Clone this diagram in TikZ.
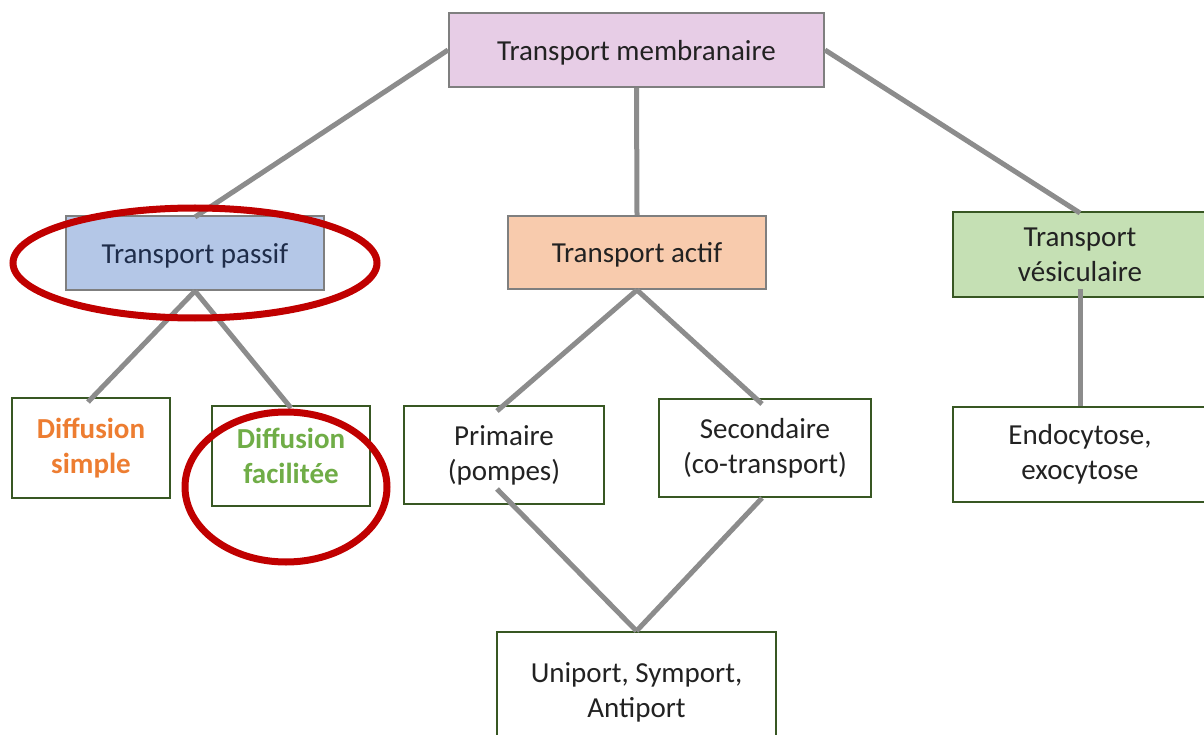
\documentclass[tikz,border=0pt]{standalone}
\usepackage{fontspec}
\setmainfont{Carlito}
\definecolor{memfill}{HTML}{E7CDE6}
\definecolor{pasfill}{HTML}{B4C7E7}
\definecolor{actfill}{HTML}{F8CBAD}
\definecolor{vesfill}{HTML}{C5E0B4}
\definecolor{grayedge}{HTML}{7F7F7F}
\definecolor{greenedge}{HTML}{385723}
\definecolor{linkgray}{HTML}{8C8C8C}
\definecolor{ringred}{HTML}{C00000}
\definecolor{txtdark}{HTML}{222222}
\definecolor{txtnavy}{HTML}{1F2D4A}
\definecolor{txtorange}{HTML}{ED7D31}
\definecolor{txtgreen}{HTML}{70AD47}
\begin{document}
\begin{tikzpicture}[x=1pt,y=-1pt,
  basebox/.style={rectangle, inner sep=0pt, align=center, text=txtdark,
    font=\fontsize{29}{35}\selectfont, line width=2pt,
    execute at begin node={\rule{0pt}{25pt}}},
  topbox/.style={basebox, draw=grayedge},
  leafbox/.style={basebox, draw=greenedge, fill=white},
  conn/.style={draw=linkgray, line width=5pt},
  ring/.style={draw=ringred, line width=7pt}]
\path[use as bounding box, fill=white] (0,0) rectangle (1204,735);
% nodes
\node[topbox, fill=memfill, minimum width=375pt, minimum height=74pt] (mem) at (636.5,50) {Transport membranaire};
\node[topbox, fill=pasfill, text=txtnavy, minimum width=258pt, minimum height=74pt] (pas) at (195,253) {Transport passif};
\node[topbox, fill=actfill, minimum width=258pt, minimum height=73pt] (act) at (637,252.5) {Transport actif};
\node[basebox, draw=greenedge, fill=vesfill, minimum width=254pt, minimum height=85pt] (ves) at (1080,254.5) {Transport\\vésiculaire};
\node[leafbox, text=txtorange, font=\fontsize{29}{35}\selectfont\bfseries, minimum width=158pt, minimum height=100pt] (sim) at (91,448) {Diffusion\\simple};
\node[leafbox, text=txtgreen, font=\fontsize{29}{35}\selectfont\bfseries, minimum width=158pt, minimum height=100pt] (fac) at (291,456) {Diffusion\\facilitée};
\node[leafbox, minimum width=200pt, minimum height=98pt] (pri) at (504,455) {Primaire\\(pompes)};
\node[leafbox, minimum width=212pt, minimum height=98pt] (sec) at (765,448) {Secondaire\\(co-transport)};
\node[leafbox, minimum width=254pt, minimum height=95pt] (endo) at (1080,454.5) {Endocytose,\\exocytose};
\node[leafbox, minimum width=279pt, minimum height=120pt] (uni) at (636.5,692) {Uniport, Symport,\\Antiport};
% connectors
\draw[conn] (mem.west) -- ([yshift=-2pt]pas.north);
\draw[conn] (mem.south) -- (act.north);
\draw[conn] (mem.east) -- ([yshift=-2pt]ves.north);
\draw[conn] (pas.south) -- ([xshift=-3pt,yshift=-5pt]sim.north);
\draw[conn] (pas.south) -- ([yshift=-3pt]fac.north);
\draw[conn] (act.south) -- ([xshift=-7pt,yshift=-6pt]pri.north);
\draw[conn] (act.south) -- ([xshift=-3pt,yshift=-6pt]sec.north);
\draw[conn] ([yshift=9pt]ves.south) -- (endo.north);
\draw[conn] ([xshift=-7pt,yshift=16pt]pri.south) -- (uni.north);
\draw[conn] ([xshift=-3pt]sec.south) -- (uni.north);
% highlight rings
\draw[ring] (195,263) ellipse [x radius=182pt, y radius=55pt];
\draw[ring] (286,487) ellipse [x radius=101pt, y radius=75pt];
\end{tikzpicture}
\end{document}
